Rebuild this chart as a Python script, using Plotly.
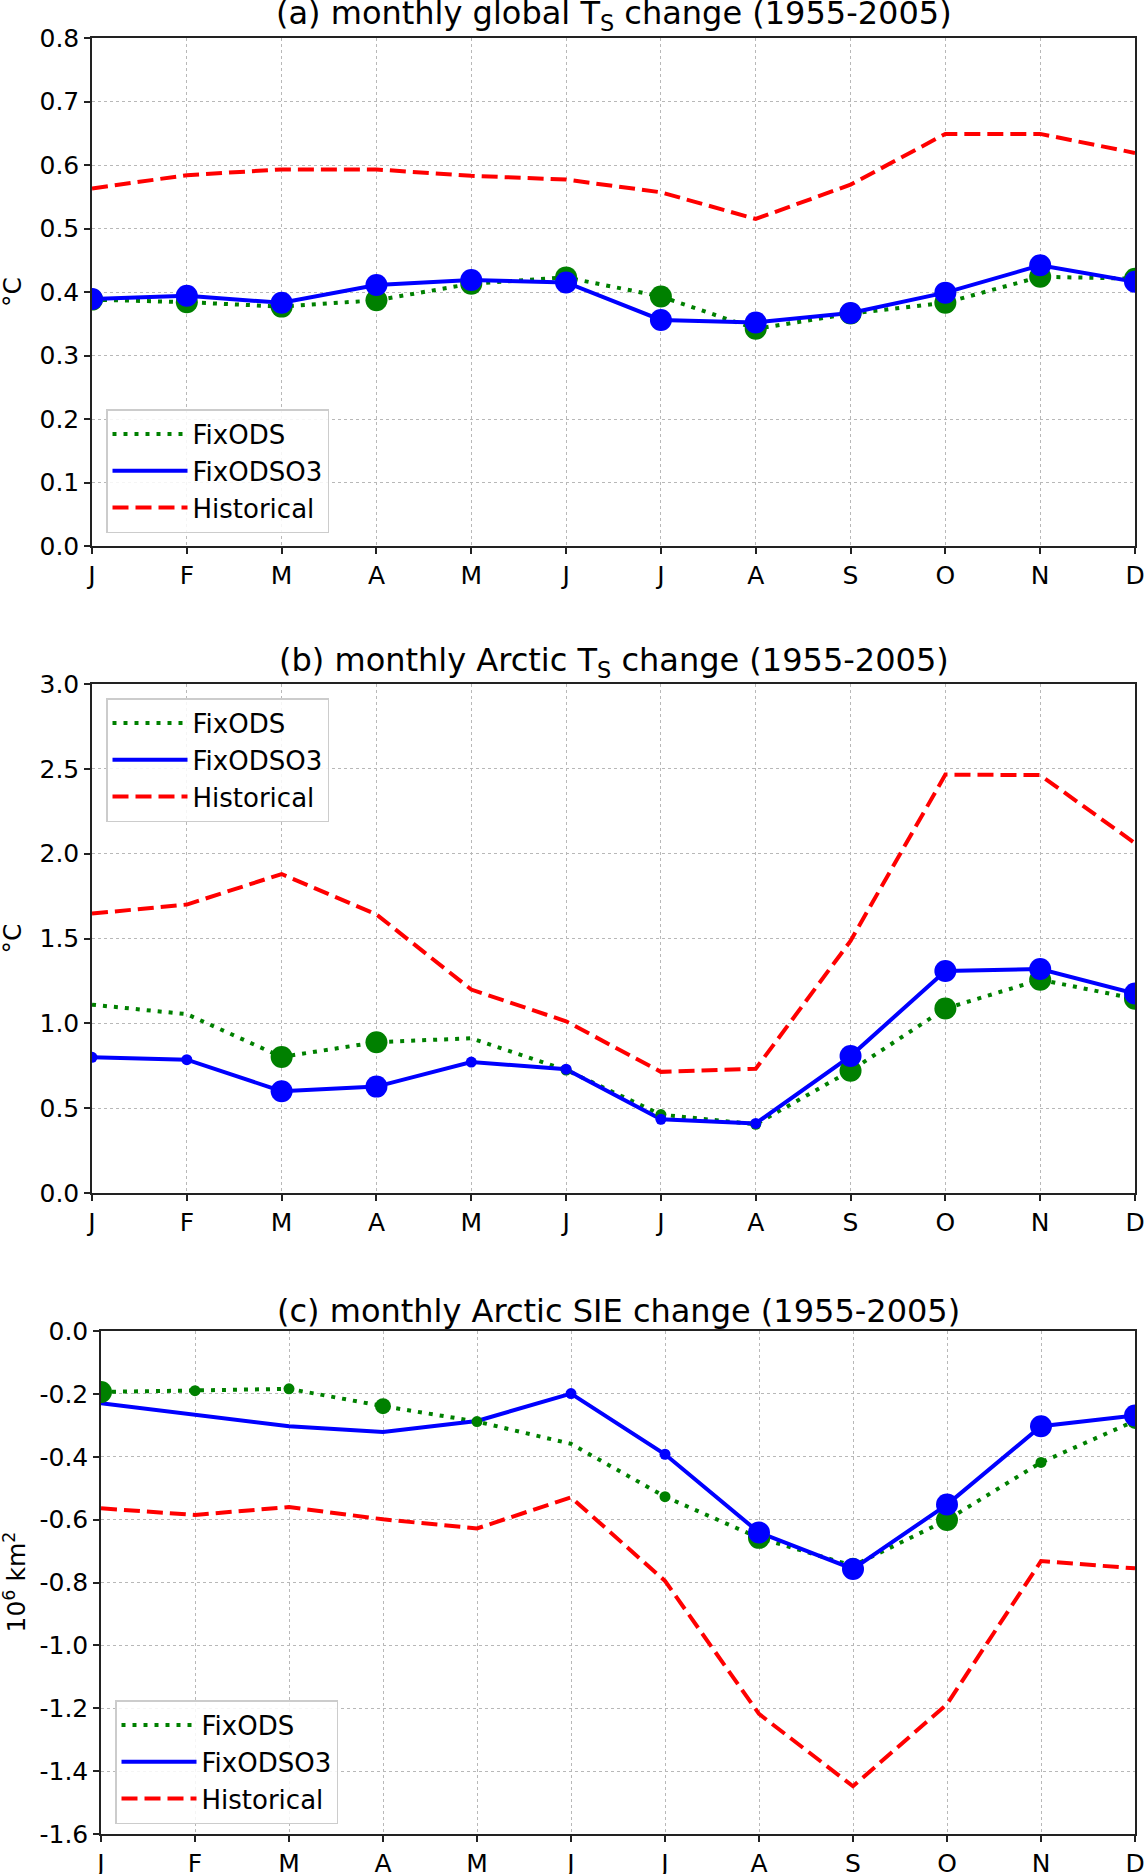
import plotly.graph_objects as go

# ---------------- data ----------------
month_labels = ["J", "F", "M", "A", "M", "J", "J", "A", "S", "O", "N", "D"]
month_index = list(range(12))

series_names = ["FixODS", "FixODSO3", "Historical"]

# (a) monthly global Ts change
a_fixods = [0.388, 0.384, 0.377, 0.387, 0.413, 0.423, 0.393, 0.342, 0.366, 0.383, 0.424, 0.421]
a_fixodso3 = [0.389, 0.394, 0.383, 0.411, 0.419, 0.415, 0.356, 0.352, 0.367, 0.399, 0.442, 0.416]
a_historical = [0.563, 0.584, 0.593, 0.593, 0.583, 0.577, 0.557, 0.515, 0.569, 0.649, 0.649, 0.619]
# significance level per point (0 none, 1 weak, 2 medium, 3 strong)
a_fixods_sig = [3, 3, 3, 3, 3, 3, 3, 3, 3, 3, 3, 3]
a_fixodso3_sig = [3, 3, 3, 3, 3, 3, 3, 3, 3, 3, 3, 3]

# (b) monthly Arctic Ts change
b_fixods = [1.110, 1.054, 0.802, 0.889, 0.912, 0.725, 0.462, 0.405, 0.721, 1.087, 1.257, 1.145]
b_fixodso3 = [0.800, 0.786, 0.600, 0.627, 0.772, 0.730, 0.434, 0.410, 0.807, 1.309, 1.320, 1.176]
b_historical = [1.647, 1.700, 1.880, 1.642, 1.199, 1.012, 0.714, 0.732, 1.486, 2.466, 2.463, 2.062]
b_fixods_sig = [0, 0, 3, 3, 0, 1, 1, 1, 3, 3, 3, 3]
b_fixodso3_sig = [1, 1, 3, 3, 1, 1, 1, 1, 3, 3, 3, 3]

# (c) monthly Arctic SIE change
c_fixods = [-0.194, -0.190, -0.184, -0.239, -0.288, -0.359, -0.527, -0.658, -0.747, -0.601, -0.418, -0.286]
c_fixodso3 = [-0.230, -0.268, -0.303, -0.321, -0.286, -0.199, -0.392, -0.641, -0.757, -0.552, -0.303, -0.269]
c_historical = [-0.564, -0.585, -0.560, -0.599, -0.628, -0.529, -0.795, -1.218, -1.448, -1.187, -0.732, -0.755]
c_fixods_sig = [3, 1, 1, 2, 1, 0, 1, 3, 2, 3, 1, 2]
c_fixodso3_sig = [0, 0, 0, 0, 0, 1, 1, 3, 3, 3, 3, 3]

a_yticks = [0.0, 0.1, 0.2, 0.3, 0.4, 0.5, 0.6, 0.7, 0.8]
b_yticks = [0.0, 0.5, 1.0, 1.5, 2.0, 2.5, 3.0]
c_yticks = [0.0, -0.2, -0.4, -0.6, -0.8, -1.0, -1.2, -1.4, -1.6]

titles = [
    "(a) monthly global T<sub>S</sub> change (1955-2005)",
    "(b) monthly Arctic T<sub>S</sub> change (1955-2005)",
    "(c) monthly Arctic SIE change (1955-2005)",
]
ylabels = ["°C", "°C", "10<sup>6</sup> km<sup>2</sup>"]

# ---------------- styles ----------------
W, H = 1146, 1874
FONT = "DejaVu Sans"
GREEN, BLUE, RED = "#008000", "#0000ff", "#ff0000"
sig_size = {0: 0, 1: 11, 2: 16, 3: 22}

# panel pixel boxes (left, right, top, bottom)
boxes = [(92, 1135, 38, 546), (92, 1135, 684, 1193), (101, 1135, 1331, 1834)]
yranges = [(0, 0.8), (0, 3.0), (-1.6, 0.0)]
ytick_sets = [a_yticks, b_yticks, c_yticks]
title_y = [15, 662, 1311]
ylabel_x = [12, 12, 15]
legend_boxes = [(106, 409), (106, 698), (115, 1700)]

panels = [
    (a_fixods, a_fixodso3, a_historical, a_fixods_sig, a_fixodso3_sig),
    (b_fixods, b_fixodso3, b_historical, b_fixods_sig, b_fixodso3_sig),
    (c_fixods, c_fixodso3, c_historical, c_fixods_sig, c_fixodso3_sig),
]

fig = go.Figure()
layout = dict(
    width=W, height=H,
    margin=dict(l=0, r=0, t=0, b=0),
    paper_bgcolor="white", plot_bgcolor="white",
    font=dict(family=FONT, size=25, color="black"),
    annotations=[],
    showlegend=True,
)

for i, (fx, fo3, hist, fx_sig, fo3_sig) in enumerate(panels):
    n = "" if i == 0 else str(i + 1)
    xa, ya = "x" + n, "y" + n
    lg = "legend" + n
    l, r, t, b = boxes[i]

    # line traces (legend)
    fig.add_trace(go.Scatter(x=month_index, y=fx, mode="lines", name=series_names[0],
                             line=dict(color=GREEN, width=4, dash="4px,7px"),
                             xaxis=xa, yaxis=ya, legend=lg))
    fig.add_trace(go.Scatter(x=month_index, y=fo3, mode="lines", name=series_names[1],
                             line=dict(color=BLUE, width=4),
                             xaxis=xa, yaxis=ya, legend=lg))
    fig.add_trace(go.Scatter(x=month_index, y=hist, mode="lines", name=series_names[2],
                             line=dict(color=RED, width=4, dash="16px,7px"),
                             xaxis=xa, yaxis=ya, legend=lg))
    # significance markers
    fig.add_trace(go.Scatter(x=month_index, y=fx, mode="markers", showlegend=False,
                             marker=dict(color=GREEN, size=[sig_size[s] for s in fx_sig],
                                         opacity=1, line=dict(width=0)),
                             xaxis=xa, yaxis=ya, hoverinfo="skip"))
    fig.add_trace(go.Scatter(x=month_index, y=fo3, mode="markers", showlegend=False,
                             marker=dict(color=BLUE, size=[sig_size[s] for s in fo3_sig],
                                         opacity=1, line=dict(width=0)),
                             xaxis=xa, yaxis=ya, hoverinfo="skip"))

    axis_common = dict(showline=True, linecolor="#222222", linewidth=1.5, mirror=True,
                       ticks="outside", ticklen=6, tickwidth=1.5, tickcolor="#222222",
                       showgrid=True, gridcolor="#b8b8b8", gridwidth=1, griddash="dot",
                       zeroline=False, automargin=False,
                       tickfont=dict(family=FONT, size=25, color="black"))
    layout["xaxis" + n] = dict(
        axis_common,
        domain=[l / W, r / W], anchor=ya, range=[0, 11],
        tickmode="array", tickvals=month_index, ticktext=month_labels,
    )
    layout["yaxis" + n] = dict(
        axis_common,
        domain=[1 - b / H, 1 - t / H], anchor=xa, range=list(yranges[i]),
        tickmode="array", tickvals=ytick_sets[i],
        ticktext=["%.1f" % v for v in ytick_sets[i]],
    )
    lx, ly = legend_boxes[i]
    layout[lg] = dict(
        x=lx / W, y=1 - ly / H, xanchor="left", yanchor="top",
        xref="paper", yref="paper",
        bgcolor="rgba(255,255,255,0.85)", bordercolor="#cccccc", borderwidth=1.5,
        font=dict(family=FONT, size=26, color="black"),
        itemwidth=75, tracegroupgap=0,
    )
    layout["annotations"].append(dict(
        text=titles[i], x=(l + r) / 2 / W, y=1 - title_y[i] / H,
        xref="paper", yref="paper", xanchor="center", yanchor="middle",
        showarrow=False, font=dict(family=FONT, size=32, color="black"),
    ))
    layout["annotations"].append(dict(
        text=ylabels[i], x=ylabel_x[i] / W, y=1 - (t + b) / 2 / H,
        xref="paper", yref="paper", xanchor="center", yanchor="middle",
        textangle=-90, showarrow=False, font=dict(family=FONT, size=25, color="black"),
    ))

fig.update_layout(**layout)
fig.write_html("out.html", config={"displayModeBar": False},
               post_script="document.body.style.margin='0px';")
